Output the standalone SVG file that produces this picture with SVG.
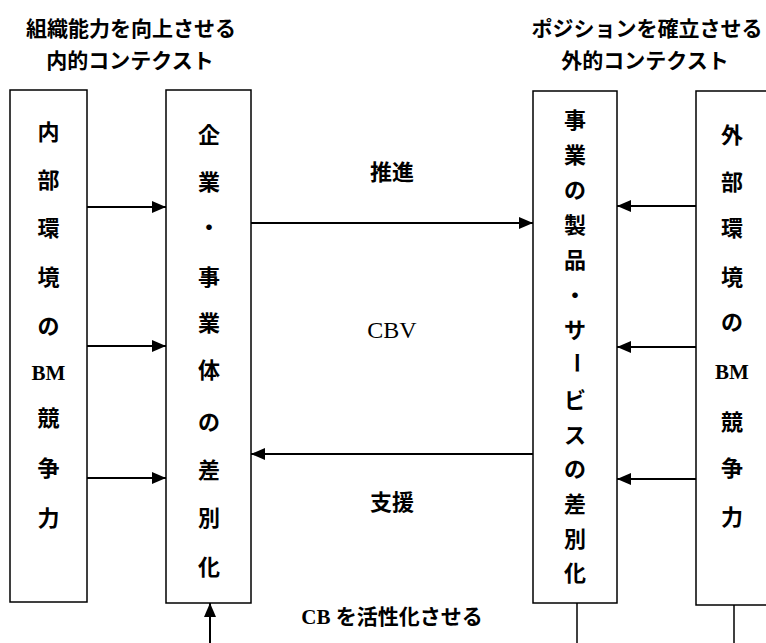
<svg xmlns="http://www.w3.org/2000/svg" width="766" height="643" viewBox="0 0 766 643">
<style>
.box{fill:#fff;stroke:#000;stroke-width:1.5}
.t{font-family:"Liberation Serif","Noto Sans CJK JP",serif;font-weight:bold;font-size:21px;fill:#000;text-anchor:middle}
.b{font-size:22px}
.r{font-weight:normal;font-size:24px}
.c{stroke:#000;stroke-width:2;fill:none}
</style>
<defs>
<marker id="ah" markerUnits="userSpaceOnUse" markerWidth="14" markerHeight="12" refX="14" refY="6" orient="auto">
<path d="M0,0 L14,6 L0,12 z" fill="#000"/>
</marker>
</defs>
<rect width="766" height="643" fill="#fff"/>
<g id="titles">
<text class="t" x="131" y="36">組織能力を向上させる</text>
<text class="t" x="130" y="68">内的コンテクスト</text>
<text class="t" x="647" y="36">ポジションを確立させる</text>
<text class="t" x="645" y="68">外的コンテクスト</text>
</g>
<g id="internal">
<rect class="box" x="10" y="90" width="77" height="512"/>
<text class="t b" x="48.5" y="140">内</text>
<text class="t b" x="48.5" y="188">部</text>
<text class="t b" x="48.5" y="236">環</text>
<text class="t b" x="48.5" y="285">境</text>
<text class="t b" x="48.5" y="334">の</text>
<text class="t" x="48.5" y="379.5">BM</text>
<text class="t b" x="48.5" y="426">競</text>
<text class="t b" x="48.5" y="476">争</text>
<text class="t b" x="48.5" y="526">力</text>
</g>
<g id="company">
<rect class="box" x="166" y="90" width="85" height="513"/>
<text class="t b" x="209" y="143">企</text>
<text class="t b" x="209" y="190">業</text>
<text class="t b" x="209" y="235">・</text>
<text class="t b" x="209" y="285">事</text>
<text class="t b" x="209" y="331">業</text>
<text class="t b" x="209" y="378">体</text>
<text class="t b" x="209" y="430">の</text>
<text class="t b" x="209" y="478">差</text>
<text class="t b" x="209" y="526">別</text>
<text class="t b" x="209" y="575">化</text>
</g>
<g id="product">
<rect class="box" x="533" y="91" width="84" height="512"/>
<text class="t b" x="575" y="128">事</text>
<text class="t b" x="575" y="163">業</text>
<text class="t b" x="575" y="198">の</text>
<text class="t b" x="575" y="232.5">製</text>
<text class="t b" x="575" y="267.5">品</text>
<text class="t b" x="575" y="302.5">・</text>
<text class="t b" x="575" y="337.5">サ</text>
<text class="t b" x="575" y="363" style="writing-mode:vertical-rl">ー</text>
<text class="t b" x="575" y="407.5">ビ</text>
<text class="t b" x="575" y="442.5">ス</text>
<text class="t b" x="575" y="476.5">の</text>
<text class="t b" x="575" y="511.5">差</text>
<text class="t b" x="575" y="547">別</text>
<text class="t b" x="575" y="581">化</text>
</g>
<g id="external">
<rect class="box" x="696" y="91" width="80" height="514"/>
<text class="t b" x="732" y="143">外</text>
<text class="t b" x="732" y="190">部</text>
<text class="t b" x="732" y="236">環</text>
<text class="t b" x="732" y="285">境</text>
<text class="t b" x="732" y="330">の</text>
<text class="t" x="732" y="379">BM</text>
<text class="t b" x="732" y="430">競</text>
<text class="t b" x="732" y="476">争</text>
<text class="t b" x="732" y="525">力</text>
</g>
<g id="connectors">
<line class="c" x1="87" y1="207" x2="166" y2="207" marker-end="url(#ah)"/>
<line class="c" x1="87" y1="346" x2="166" y2="346" marker-end="url(#ah)"/>
<line class="c" x1="87" y1="478" x2="166" y2="478" marker-end="url(#ah)"/>
<line class="c" x1="251" y1="223" x2="533" y2="223" marker-end="url(#ah)"/>
<line class="c" x1="533" y1="454" x2="251" y2="454" marker-end="url(#ah)"/>
<line class="c" x1="696" y1="206" x2="617" y2="206" marker-end="url(#ah)"/>
<line class="c" x1="696" y1="347" x2="617" y2="347" marker-end="url(#ah)"/>
<line class="c" x1="696" y1="479" x2="617" y2="479" marker-end="url(#ah)"/>
<line class="c" x1="210" y1="643" x2="210" y2="603" marker-end="url(#ah)"/>
<line class="c" x1="577" y1="603" x2="577" y2="643" style="stroke-width:1.5"/>
<line class="c" x1="734" y1="605" x2="734" y2="643" style="stroke-width:1.5"/>
</g>
<g id="labels">
<text class="t b" x="392" y="180">推進</text>
<text class="t r" x="392" y="338">CBV</text>
<text class="t b" x="392" y="510">支援</text>
<text class="t" x="392" y="624">CB を活性化させる</text>
</g>
</svg>
